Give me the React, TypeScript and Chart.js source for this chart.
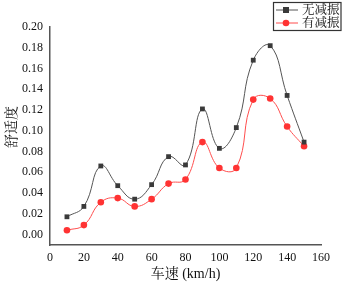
import React, { useEffect, useRef } from "react";
import { Chart, registerables } from "chart.js";

Chart.register(...registerables);

const speeds = [10, 20, 30, 40, 50, 60, 70, 80, 90, 100, 110, 120, 130, 140, 150];
const noDamping = [0.017, 0.027, 0.066, 0.047, 0.034, 0.048, 0.075, 0.067, 0.121, 0.083, 0.103, 0.168, 0.182, 0.134, 0.089];
const withDamping = [0.004, 0.009, 0.031, 0.035, 0.027, 0.034, 0.049, 0.053, 0.089, 0.064, 0.064, 0.13, 0.131, 0.104, 0.085];
const seriesNames = ["无减振", "有减振"];
const xTitle = "车速 (km/h)";
const yTitle = "舒适度";

const FONT = "'Liberation Serif', 'Noto Serif CJK SC', serif";
const BLACK = "#3a3a3a";
const BLACK_LINE = "#555555";
const RED = "#ff3333";
const RED_LINE = "#ff4d4d";

Chart.defaults.font.family = FONT;

const overlayPlugin = {
  id: "overlay",
  afterDraw(chart: any) {
    const ctx = chart.ctx;
    const area = chart.chartArea;
    ctx.save();
    ctx.fillStyle = "#111";
    ctx.font = `14px ${FONT}`;
    ctx.textAlign = "center";
    ctx.textBaseline = "middle";
    ctx.fillText(xTitle, (area.left + area.right) / 2, 274);
    ctx.save();
    ctx.translate(12, 127);
    ctx.rotate(-Math.PI / 2);
    ctx.fillText(yTitle, 0, 0);
    ctx.restore();

    const bx = 273.5, by = 2.5, bw = 67.5, bh = 28;
    ctx.fillStyle = "#fff";
    ctx.fillRect(bx, by, bw, bh);
    ctx.strokeStyle = "#333";
    ctx.lineWidth = 1.2;
    ctx.strokeRect(bx, by, bw, bh);
    const rows = [
      { name: seriesNames[0], line: BLACK_LINE, fill: BLACK, square: true, y: 10 },
      { name: seriesNames[1], line: RED_LINE, fill: RED, square: false, y: 23 },
    ];
    rows.forEach((r) => {
      ctx.strokeStyle = r.line;
      ctx.lineWidth = 1;
      ctx.beginPath();
      ctx.moveTo(276, r.y);
      ctx.lineTo(298, r.y);
      ctx.stroke();
      ctx.fillStyle = r.fill;
      if (r.square) {
        ctx.fillRect(283, r.y - 3, 6, 6);
      } else {
        ctx.beginPath();
        ctx.arc(286, r.y, 3.3, 0, Math.PI * 2);
        ctx.fill();
      }
      ctx.fillStyle = "#111";
      ctx.font = `12.5px ${FONT}`;
      ctx.textAlign = "left";
      ctx.textBaseline = "middle";
      ctx.fillText(r.name, 302, r.y + 0.5);
    });
    ctx.restore();
  },
};

export default function App() {
  const ref = useRef<HTMLCanvasElement | null>(null);
  useEffect(() => {
    document.body.style.margin = "0";
    const canvas = ref.current;
    if (!canvas) return;
    let chart: Chart | null = null;
    let cancelled = false;
    const build = () => {
      if (cancelled) return;
      chart = new Chart(canvas, {
        type: "line",
        data: {
          datasets: [
            {
              label: seriesNames[0],
              data: speeds.map((x, i) => ({ x, y: noDamping[i] })),
              borderColor: BLACK_LINE,
              backgroundColor: BLACK,
              borderWidth: 1,
              pointStyle: "rect",
              pointRadius: 3.4,
              pointBorderWidth: 0,
              tension: 0.45,
            },
            {
              label: seriesNames[1],
              data: speeds.map((x, i) => ({ x, y: withDamping[i] })),
              borderColor: RED_LINE,
              backgroundColor: RED,
              borderWidth: 1,
              pointStyle: "circle",
              pointRadius: 3.3,
              pointBorderWidth: 0,
              tension: 0.45,
            },
          ],
        },
        plugins: [overlayPlugin],
        options: {
          animation: false,
          responsive: false,
          devicePixelRatio: 1,
          layout: { padding: { left: 0, right: 21, top: 27, bottom: 0 } },
          plugins: { legend: { display: false }, tooltip: { enabled: false } },
          scales: {
            x: {
              type: "linear",
              min: 0,
              max: 160,
              grid: { display: false, drawTicks: false },
              border: { display: true, color: "#555", width: 1.5 },
              ticks: {
                stepSize: 20,
                padding: 6,
                color: "#111",
                font: { size: 12 },
                maxRotation: 0,
              },
              afterFit: (s: any) => {
                s.height = 38;
              },
            },
            y: {
              type: "linear",
              min: -0.0102,
              max: 0.2,
              grid: { display: false, drawTicks: false },
              border: { display: true, color: "#555", width: 1.5 },
              ticks: {
                stepSize: 0.02,
                includeBounds: false,
                padding: 7,
                color: "#111",
                font: { size: 12 },
                callback: (v: any) => Number(v).toFixed(2),
              },
              afterFit: (s: any) => {
                s.width = 50;
              },
            },
          },
        },
      } as any);
    };
    const fontsApi: any = (document as any).fonts;
    if (fontsApi && fontsApi.load) {
      Promise.all([
        fontsApi.load("12px 'Liberation Serif'", "0.1"),
        fontsApi.load("14px 'Noto Serif CJK SC'", "舒适度车速无减振有"),
      ])
        .catch(() => null)
        .then(build);
    } else {
      build();
    }
    return () => {
      cancelled = true;
      if (chart) chart.destroy();
    };
  }, []);
  return (
    <div style={{ position: "absolute", left: 0, top: 0, width: 342, height: 283, background: "#fff" }}>
      <canvas ref={ref} width={342} height={283} style={{ width: 342, height: 283 }} />
    </div>
  );
}
